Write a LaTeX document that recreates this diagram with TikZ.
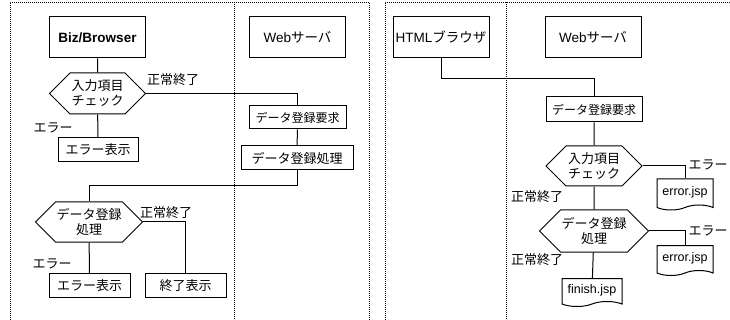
\documentclass[tikz,border=0pt]{standalone}
\usepackage{fontspec}
\setmainfont{Liberation Sans}
\newfontfamily\jpfont{Noto Sans CJK JP}
\usetikzlibrary{shapes.symbols}
\tikzset{
  box/.style={draw, line width=1pt, inner sep=1pt, font=\jpfont\fontsize{13}{15}\selectfont},
  bigbox/.style={box, minimum width=96pt, minimum height=41pt, font=\jpfont\fontsize{13.5}{15}\selectfont},
  smallbox/.style={box, minimum height=24pt},
  hexa/.style={box, signal, signal to=west and east, signal pointer angle=90,
               minimum width=96pt, minimum height=41pt, align=center},
  docu/.style={box, tape, tape bend top=none, tape bend bottom=in and out,
               tape bend height=5pt, font=\fontsize{12.5}{14}\selectfont},
  conn/.style={line width=1pt},
  lbl/.style={font=\jpfont\fontsize{13}{15}\selectfont, inner sep=1pt},
  lane/.style={line width=.8pt, dash pattern=on .8pt off 1.2pt}
}
\begin{document}
\begin{tikzpicture}[x=1pt, y=-1pt]
        \useasboundingbox (0,0) rectangle (730,320);
        \draw[lane] (10,320) -- (10,2) -- (369,2) -- (369,320);
        \draw[lane] (385,320) -- (385,2) -- (730,2);
        \foreach \x in {234,506}{
          \draw[lane] (\x,2) -- (\x,320);
        }
        % Biz/Browser
        \node[bigbox, font=\bfseries\fontsize{13.5}{15}\selectfont] (biz) at (97.5,37.5) {Biz/Browser};
        \node[hexa] (chk1) at (97.5,93.5) {入力項目\\チェック};
        \node[smallbox, minimum width=80pt] (err1) at (98,149.5) {エラー表示};
        \node[bigbox] (web1) at (297.5,37.5) {\rmfamily Web\jpfont サーバ};
        \node[smallbox, minimum width=97pt, minimum height=23pt, font=\jpfont\fontsize{12}{14}\selectfont] (req1) at (297.5,117.5) {データ登録要求};
        \node[smallbox, minimum width=112pt] (proc1) at (297,158) {データ登録処理};
        \node[hexa, minimum height=40pt] (chk2) at (89,222) {データ登録\\処理};
        \node[smallbox, minimum width=81pt] (err2) at (89.5,285.5) {エラー表示};
        \node[smallbox, minimum width=81pt] (fin) at (185.5,285.5) {終了表示};
        \draw[conn] (biz) -- (chk1);
        \draw[conn] (chk1.east) -| (req1.north);
        \draw[conn] (chk1) -- (err1);
        \draw[conn] (req1) -- (proc1);
        \draw[conn] (proc1.south) --++ (0,15) -| (chk2.north);
        \draw[conn] (chk2.east) -| (fin.north);
        \draw[conn] (chk2) -- (err2);
        \node[lbl] (ok1) at (173,80) {正常終了};
        \node[lbl] (ng1) at (53,128) {エラー};
        \node[lbl] (ok2) at (166,213) {正常終了};
        \node[lbl] (ng2) at (52,264) {エラー};
        % HTML
        \node[bigbox] (html) at (441,37.5) {\rmfamily HTML\jpfont ブラウザ};
        \node[bigbox] (web2) at (593,37.5) {\rmfamily Web\jpfont サーバ};
        \node[smallbox, minimum width=96pt, minimum height=25pt, font=\jpfont\fontsize{12}{14}\selectfont] (req2) at (594,109.5) {データ登録要求};
        \node[hexa, minimum height=40pt] (chk3) at (594,166) {入力項目\\チェック};
        \node[docu, minimum width=56pt, minimum height=31pt] (jsp1) at (685,192) {error.jsp};
        \node[hexa, minimum height=42pt] (chk4) at (594,231) {データ登録\\処理};
        \node[docu, minimum width=56pt, minimum height=30pt] (jsp2) at (685,258) {error.jsp};
        \node[docu, minimum width=60pt, minimum height=28pt] (done) at (592,290) {finish.jsp};
        \draw[conn] (html.south) --++ (0,20) -| (req2.north);
        \draw[conn] (req2) -- (chk3);
        \draw[conn] (chk3.east) -| (jsp1.north);
        \draw[conn] (chk3) -- (chk4);
        \draw[conn] (chk4.east) -| (jsp2.north);
        \draw[conn] (chk4) -- (done);
        \node[lbl] (ng3) at (708,165) {エラー};
        \node[lbl] (ok3) at (537,197) {正常終了};
        \node[lbl] (ng4) at (708,231) {エラー};
        \node[lbl] (ok4) at (537,260) {正常終了};
      \end{tikzpicture}
\end{document}
